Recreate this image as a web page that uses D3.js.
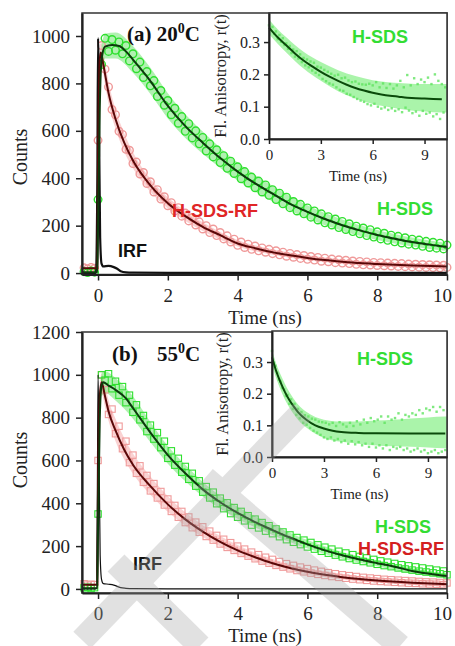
<!DOCTYPE html>
<html><head><meta charset="utf-8">
<script src="https://cdn.jsdelivr.net/npm/d3@7"></script>
<style>body{margin:0;background:#fff}svg{display:block}</style>
</head><body><svg id="c" width="455" height="646"></svg>
<script>
// ---------- DATA ----------
const mainTicksX = [0, 2, 4, 6, 8, 10];
const topTicksY = [0, 200, 400, 600, 800, 1000];
const botTicksY = [0, 200, 400, 600, 800, 1000, 1200];
const insetTicksX = [0, 3, 6, 9];
const insetTicksY = [0.0, 0.1, 0.2, 0.3];

// sampling channels (ns) for the decay data
const tData = [-0.4,-0.3,-0.2,-0.1,0,
0.1,0.2,0.3,0.4,0.5,0.6,0.7,0.8,0.9,1.0,
1.1,1.2,1.3,1.4,1.5,1.6,1.7,1.8,1.9,2.0,
2.1,2.2,2.3,2.4,2.5,2.6,2.7,2.8,2.9,3.0,
3.1,3.2,3.3,3.4,3.5,3.6,3.7,3.8,3.9,4.0,
4.1,4.2,4.3,4.4,4.5,4.6,4.7,4.8,4.9,5.0,
5.1,5.2,5.3,5.4,5.5,5.6,5.7,5.8,5.9,6.0,
6.1,6.2,6.3,6.4,6.5,6.6,6.7,6.8,6.9,7.0,
7.1,7.2,7.3,7.4,7.5,7.6,7.7,7.8,7.9,8.0,
8.1,8.2,8.3,8.4,8.5,8.6,8.7,8.8,8.9,9.0,
9.1,9.2,9.3,9.4,9.5,9.6,9.7,9.8,9.9,10.0];

// (a) 20 C observed counts
const topGreenObs = [6,2,9,4,310,
880,990,935,985,940,975,925,960,895,925,
862,890,825,850,790,812,745,770,708,728,
668,695,632,660,598,630,570,600,545,572,
515,545,490,520,466,495,442,472,420,448,
398,428,380,405,360,388,342,372,328,352,
310,337,292,320,276,302,262,290,250,275,
236,262,224,250,212,238,203,228,192,218,
184,208,175,198,166,190,158,183,152,174,
144,168,138,160,132,155,127,149,122,143,
118,139,113,134,108,130,105,126,102,118];
const topRedObs = [22,18,24,20,560,
960,860,785,690,668,598,585,522,518,462,
468,418,424,378,385,342,352,312,322,284,
297,262,276,240,253,220,234,203,216,186,
200,171,186,158,171,144,157,131,143,117,
131,108,122,100,114,94,106,88,100,82,
94,77,88,71,83,67,78,62,74,58,
70,55,66,50,63,48,59,44,56,42,
54,40,51,37,49,35,47,34,45,32,
44,31,42,30,41,28,40,27,38,26,
37,25,36,24,35,23,34,22,33,24];
// spread of the dense data cloud (counts)
const topGreenBandT  = [0.1,0.2,0.5,1,1.5,2,2.5,3,4,5,6,7,8,9,10];
const topGreenBandLo = [850,905,905,845,755,652,570,503,390,302,230,178,140,112,93];
const topGreenBandHi = [960,1010,1015,958,866,758,670,597,466,368,286,226,182,150,127];
const topRedBandT  = [0.05,0.1,0.2,0.3,0.5,0.75,1,1.5,2,2.5,3,4,5,6,7,8,10];
const topRedBandLo = [850,870,795,715,610,512,442,343,272,220,178,112,77,55,40,31,20];
const topRedBandHi = [965,970,890,808,692,590,510,398,320,262,214,140,100,75,57,46,36];

// (a) fits
const topGreenFitT = [-0.46,-0.02,0.0,0.05,0.1,0.2,0.4,0.6,0.8,1.0,1.5,2.0,2.5,3.0,3.5,4.0,4.5,5.0,5.5,6.0,6.5,7.0,7.5,8.0,8.5,9.0,9.5,10.0];
const topGreenFitV = [3,3,200,700,900,955,962,958,935,900,810,705,620,550,485,428,378,335,292,258,228,202,180,161,145,131,120,110];
const topRedFitT = [-0.46,-0.02,0.0,0.05,0.08,0.15,0.3,0.5,0.75,1.0,1.5,2.0,2.5,3.0,3.5,4.0,4.5,5.0,5.5,6.0,6.5,7.0,7.5,8.0,9.0,10.0];
const topRedFitV = [20,20,500,900,930,880,760,650,550,475,370,295,240,195,160,125,105,88,75,64,55,48,42,38,32,28];
const topIrfT = [-0.46,-0.06,-0.02,0.0,0.03,0.06,0.1,0.15,0.3,0.45,0.55,0.65,0.8,1.0,2.0,4.0,6.0,8.0,10.0];
const topIrfV = [0,0,400,990,600,150,40,28,30,25,18,8,3,2,1,1,1,1,1];

// (b) 55 C observed counts
const botGreenObs = [5,8,2,6,350,
1000,975,1005,935,970,905,945,870,905,825,
860,790,810,735,765,700,730,660,690,610,
645,578,610,545,572,512,540,480,505,452,
478,425,452,398,424,375,402,352,380,335,
362,318,342,298,326,285,310,270,295,258,
280,244,266,230,252,218,240,207,228,196,
217,186,206,176,195,167,186,158,176,150,
168,142,160,135,152,128,145,122,138,115,
131,109,125,104,119,98,113,93,108,88,
103,83,98,79,93,75,88,71,84,66];
const botRedObs = [24,18,22,20,600,
1000,930,815,840,725,760,655,690,590,625,
540,575,498,530,458,492,425,455,392,420,
362,390,335,362,310,336,286,312,265,290,
245,270,228,250,210,232,194,216,180,200,
166,186,153,172,141,160,130,148,120,138,
110,128,102,118,94,110,86,102,80,95,
74,88,68,82,63,76,58,71,54,66,
50,62,46,58,43,54,40,51,37,48,
35,45,33,43,31,41,29,39,27,37,
26,35,24,33,23,32,22,30,20,28];
const botGreenBandT  = [0.1,0.2,0.5,1,1.5,2,2.5,3,4,5,6,7,8,9,10];
const botGreenBandLo = [900,915,880,795,685,585,503,432,328,252,189,141,106,72,50];
const botGreenBandHi = [1010,1015,985,900,780,668,580,500,384,300,228,173,134,97,72];
const botRedBandT  = [0.05,0.1,0.2,0.3,0.5,0.75,1,1.5,2,2.5,3,4,5,6,7,8,10];
const botRedBandLo = [850,915,850,785,690,605,538,440,360,295,242,160,103,67,44,30,15];
const botRedBandHi = [965,1005,955,882,795,705,632,525,433,358,298,205,140,97,69,51,32];

// (b) fits
const botGreenFitT = [-0.46,-0.02,0.0,0.05,0.1,0.15,0.3,0.5,0.8,1.0,1.5,2.0,2.5,3.0,3.5,4.0,4.5,5.0,5.5,6.0,6.5,7.0,7.5,8.0,8.5,9.0,9.5,10.0];
const botGreenFitV = [3,3,300,800,950,965,950,930,890,845,730,625,540,465,405,355,312,275,240,208,180,157,137,120,104,84,71,60];
const botRedFitT = [-0.46,-0.02,0.0,0.05,0.1,0.2,0.3,0.5,0.75,1.0,1.5,2.0,2.5,3.0,3.5,4.0,4.5,5.0,5.5,6.0,6.5,7.0,7.5,8.0,9.0,10.0];
const botRedFitV = [20,20,500,900,965,900,830,740,650,580,480,395,325,268,220,180,148,120,98,80,66,55,46,39,29,22];
const botIrfT = [-0.46,-0.06,-0.02,0.0,0.03,0.06,0.1,0.15,0.3,0.45,0.55,0.65,0.8,1.0,2.0,4.0,6.0,8.0,10.0];
const botIrfV = [0,0,450,1000,620,160,45,25,22,18,12,6,3,1,0,0,0,0,0];

// anisotropy insets
const tInset = [0,0.1,0.2,0.3,0.4,0.5,0.6,0.7,0.8,0.9,
1.0,1.1,1.2,1.3,1.4,1.5,1.6,1.7,1.8,1.9,
2.0,2.1,2.2,2.3,2.4,2.5,2.6,2.7,2.8,2.9,
3.0,3.1,3.2,3.3,3.4,3.5,3.6,3.7,3.8,3.9,
4.0,4.1,4.2,4.3,4.4,4.5,4.6,4.7,4.8,4.9,
5.0,5.1,5.2,5.3,5.4,5.5,5.6,5.7,5.8,5.9,
6.0,6.1,6.2,6.3,6.4,6.5,6.6,6.7,6.8,6.9,
7.0,7.1,7.2,7.3,7.4,7.5,7.6,7.7,7.8,7.9,
8.0,8.1,8.2,8.3,8.4,8.5,8.6,8.7,8.8,8.9,
9.0,9.1,9.2,9.3,9.4,9.5,9.6,9.7,9.8,9.9,
10.0,10.1,10.2];
const topAnisoObs = [.352,.338,.347,.326,.333,.309,.322,.301,.312,.291,
.296,.279,.288,.266,.277,.255,.272,.249,.262,.238,
.251,.228,.246,.222,.240,.212,.236,.205,.224,.198,
.221,.186,.214,.179,.208,.172,.202,.168,.196,.160,
.199,.152,.188,.149,.190,.140,.181,.137,.176,.130,
.178,.124,.171,.119,.169,.115,.168,.108,.171,.104,
.166,.109,.176,.100,.160,.094,.172,.098,.158,.090,
.170,.095,.156,.087,.166,.092,.180,.083,.160,.097,
.198,.088,.166,.080,.188,.085,.170,.072,.184,.087,
.176,.078,.190,.082,.170,.070,.200,.077,.180,.062,
.170,.082,.160];
const topAnisoBandT = [0,0.5,1,2,3,4,5,6,7,8,9,10,10.3];
const topAnisoBandLo = [0.325,0.295,0.268,0.218,0.18,0.148,0.125,0.108,0.098,0.09,0.085,0.082,0.082];
const topAnisoBandHi = [0.37,0.34,0.315,0.27,0.238,0.213,0.195,0.182,0.175,0.172,0.17,0.17,0.17];
const topAnisoFitT = [0,0.5,1,1.5,2,2.5,3,3.5,4,4.5,5,5.5,6,6.5,7,7.5,8,8.5,9,9.5,10];
const topAnisoFitV = [0.345,0.315,0.29,0.265,0.243,0.225,0.208,0.193,0.18,0.168,0.158,0.15,0.143,0.138,0.134,0.131,0.128,0.126,0.125,0.124,0.123];

const botAnisoObs = [.335,.298,.288,.266,.245,.238,.218,.213,.193,.196,
.168,.182,.152,.168,.133,.152,.122,.142,.108,.132,
.102,.128,.092,.121,.083,.118,.077,.112,.070,.110,
.062,.108,.057,.103,.062,.108,.052,.098,.057,.110,
.047,.103,.052,.096,.042,.108,.050,.098,.040,.113,
.047,.103,.037,.118,.042,.108,.032,.123,.042,.113,
.030,.118,.037,.128,.027,.108,.037,.128,.022,.118,
.032,.123,.027,.138,.032,.118,.022,.133,.027,.128,
.017,.138,.022,.133,.027,.148,.017,.138,.022,.153,
.012,.148,.017,.158,.022,.143,.012,.158,.017,.148,
.022];
const botAnisoBandT = [0,0.25,0.5,1,1.5,2,3,4,5,6,7,8,9,10,10.1];
const botAnisoBandLo = [0.293,0.248,0.212,0.156,0.118,0.092,0.06,0.048,0.042,0.036,0.034,0.032,0.03,0.028,0.028];
const botAnisoBandHi = [0.338,0.294,0.26,0.205,0.166,0.142,0.118,0.112,0.112,0.115,0.118,0.122,0.125,0.128,0.128];
const botAnisoFitT = [0,0.25,0.5,0.75,1.0,1.25,1.5,2.0,2.5,3.0,3.5,4.0,5.0,6.0,8.0,10.0];
const botAnisoFitV = [0.315,0.27,0.235,0.205,0.18,0.16,0.142,0.117,0.1,0.09,0.083,0.079,0.076,0.075,0.074,0.074];

// ---------- DRAW ----------
const svg = d3.select("#c");
const SERIF = "'Liberation Serif','Times New Roman',serif";
const SANS = "'Liberation Sans',Arial,sans-serif";
const GREEN_MK = "#2fe02f", RED_MK = "#f09a9a";
const GREEN_FIT = "#0c3a0c", RED_FIT = "#5a0808";

function styleAxis(g, w) {
  g.select(".domain").attr("stroke", "#222").attr("stroke-width", w);
  g.selectAll(".tick line").attr("stroke", "#222").attr("stroke-width", 1.5);
  g.selectAll(".tick text").attr("fill", "#222").style("font-family", SERIF);
}

function mainPanel(p) {
  const x = d3.scaleLinear().domain([-0.46, 10]).range([82, 447]);
  const y = d3.scaleLinear().domain(p.yDomain).range([p.yBottom, p.yTop]);
  const g = svg.append("g");
  const area = d3.area().x(d => x(d[0])).y0(d => y(d[1])).y1(d => y(d[2])).curve(d3.curveMonotoneX);
  g.append("path").datum(d3.zip(p.redBand[0], p.redBand[1], p.redBand[2])).attr("d", area)
    .attr("fill", "#f6b4b4").attr("opacity", 0.6);
  g.append("path").datum(d3.zip(p.greenBand[0], p.greenBand[1], p.greenBand[2])).attr("d", area)
    .attr("fill", "#6fe66f").attr("opacity", 0.55);
  const pts = d3.zip(tData, p.redObs);
  const ptsG = d3.zip(tData, p.greenObs);
  if (p.marker === "circle") {
    g.append("g").selectAll("circle").data(pts).join("circle")
      .attr("cx", d => x(d[0])).attr("cy", d => y(d[1])).attr("r", 3.8)
      .attr("fill", "none").attr("stroke", RED_MK).attr("stroke-width", 1.4);
    g.append("g").selectAll("circle").data(ptsG).join("circle")
      .attr("cx", d => x(d[0])).attr("cy", d => y(d[1])).attr("r", 3.8)
      .attr("fill", "none").attr("stroke", GREEN_MK).attr("stroke-width", 1.4);
  } else {
    g.append("g").selectAll("rect").data(pts).join("rect")
      .attr("x", d => x(d[0]) - 3.2).attr("y", d => y(d[1]) - 3.2).attr("width", 6.4).attr("height", 6.4)
      .attr("fill", "none").attr("stroke", RED_MK).attr("stroke-width", 1.1);
    g.append("g").selectAll("rect").data(ptsG).join("rect")
      .attr("x", d => x(d[0]) - 3.2).attr("y", d => y(d[1]) - 3.2).attr("width", 6.4).attr("height", 6.4)
      .attr("fill", "none").attr("stroke", GREEN_MK).attr("stroke-width", 1.1);
  }
  const line = d3.line().x(d => x(d[0])).y(d => y(d[1])).curve(d3.curveMonotoneX);
  g.append("path").datum(d3.zip(p.irfT, p.irfV)).attr("d", line)
    .attr("fill", "none").attr("stroke", "#111").attr("stroke-width", p.irfW);
  g.append("path").datum(d3.zip(p.redFitT, p.redFitV)).attr("d", line)
    .attr("fill", "none").attr("stroke", RED_FIT).attr("stroke-width", 2);
  g.append("path").datum(d3.zip(p.greenFitT, p.greenFitV)).attr("d", line)
    .attr("fill", "none").attr("stroke", GREEN_FIT).attr("stroke-width", 2);

  // frame
  g.append("rect").attr("x", x.range()[0]).attr("y", p.yTop)
    .attr("width", x.range()[1] - x.range()[0]).attr("height", p.yBottom - p.yTop)
    .attr("fill", "none").attr("stroke", "#333").attr("stroke-width", 1.5);
  const ax = g.append("g").attr("transform", `translate(0,${p.yBottom})`)
    .call(d3.axisBottom(x).tickValues(mainTicksX).tickSize(6).tickSizeOuter(0).tickPadding(8).tickFormat(d3.format("d")));
  styleAxis(ax, 2.2);
  ax.selectAll(".tick text").attr("font-size", 19).attr("dx", d => d === 10 ? -5 : 0);
  const ay = g.append("g").attr("transform", `translate(${x.range()[0]},0)`)
    .call(d3.axisLeft(y).tickValues(p.yTicks).tickSize(6).tickSizeOuter(0).tickPadding(6).tickFormat(d3.format("d")));
  styleAxis(ay, 2.2);
  ay.selectAll(".tick text").attr("font-size", 19);
  g.append("text").attr("x", 265).attr("y", p.xTitleY).attr("text-anchor", "middle")
    .style("font-family", SERIF).attr("font-size", 19).attr("fill", "#222").text("Time (ns)");
  g.append("text").attr("transform", `translate(${p.yTitleX},${p.yTitleCY}) rotate(-90)`).attr("text-anchor", "middle")
    .style("font-family", SERIF).attr("font-size", 20).attr("fill", "#222").text("Counts");
  return {x, y};
}

function inset(p) {
  const x = d3.scaleLinear().domain(p.xDomain).range([p.x0, p.x1]);
  const y = d3.scaleLinear().domain(p.yDomain).range([p.y1, p.y0]);
  const g = svg.append("g");
  g.append("rect").attr("x", p.x0).attr("y", p.y0).attr("width", p.x1 - p.x0).attr("height", p.y1 - p.y0)
    .attr("fill", "#fff");
  const area = d3.area().x(d => x(d[0])).y0(d => y(d[1])).y1(d => y(d[2])).curve(d3.curveMonotoneX);
  g.append("path").datum(d3.zip(p.bandT, p.bandLo, p.bandHi)).attr("d", area)
    .attr("fill", "#86ef86").attr("opacity", 0.7);
  g.append("g").selectAll("rect").data(d3.zip(tInset, p.obs)).join("rect")
    .attr("x", d => x(d[0]) - 1.2).attr("y", d => y(d[1]) - 1.2).attr("width", 2.4).attr("height", 2.4)
    .attr("fill", "#5fe45f").attr("opacity", 0.8);
  const line = d3.line().x(d => x(d[0])).y(d => y(d[1])).curve(d3.curveMonotoneX);
  g.append("path").datum(d3.zip(p.fitT, p.fitV)).attr("d", line)
    .attr("fill", "none").attr("stroke", "#0a4a0a").attr("stroke-width", 2);
  g.append("rect").attr("x", p.x0).attr("y", p.y0).attr("width", p.x1 - p.x0).attr("height", p.y1 - p.y0)
    .attr("fill", "none").attr("stroke", "#333").attr("stroke-width", 1.5);
  const ax = g.append("g").attr("transform", `translate(0,${p.y1})`)
    .call(d3.axisBottom(x).tickValues(insetTicksX).tickSize(5).tickSizeOuter(0).tickPadding(5).tickFormat(d3.format("d")));
  styleAxis(ax, 2);
  ax.selectAll(".tick text").attr("font-size", 15);
  const ay = g.append("g").attr("transform", `translate(${p.x0},0)`)
    .call(d3.axisLeft(y).tickValues(insetTicksY).tickSize(5).tickSizeOuter(0).tickPadding(4).tickFormat(d3.format(".1f")));
  styleAxis(ay, 2);
  ay.selectAll(".tick text").attr("font-size", 16);
  g.append("text").attr("x", (p.x0 + p.x1) / 2).attr("y", p.xTitleY).attr("text-anchor", "middle")
    .style("font-family", SERIF).attr("font-size", 15).attr("fill", "#222").text("Time (ns)");
  g.append("text").attr("transform", `translate(${p.yTitleX},${(p.y0 + p.y1) / 2}) rotate(-90)`).attr("text-anchor", "middle")
    .style("font-family", SERIF).attr("font-size", 16.5).attr("fill", "#222").text("Fl. Anisotropy, r(t)");
}

function label(txt, x, y, color, size, family, weight) {
  return svg.append("text").attr("x", x).attr("y", y).attr("fill", color)
    .style("font-family", family).attr("font-size", size).attr("font-weight", weight || "bold").text(txt);
}

// ---- panel (a) ----
mainPanel({yDomain: [-6, 1097], yTop: 13, yBottom: 274.5, yTicks: topTicksY,
  greenObs: topGreenObs, redObs: topRedObs, marker: "circle",
  greenBand: [topGreenBandT, topGreenBandLo, topGreenBandHi], redBand: [topRedBandT, topRedBandLo, topRedBandHi],
  greenFitT: topGreenFitT, greenFitV: topGreenFitV, redFitT: topRedFitT, redFitV: topRedFitV,
  irfT: topIrfT, irfV: topIrfV, irfW: 2.2, xTitleY: 324, yTitleX: 27, yTitleCY: 157});
inset({xDomain: [0, 10.3], yDomain: [0, 0.39], x0: 269, x1: 447, y0: 13, y1: 139,
  obs: topAnisoObs, bandT: topAnisoBandT, bandLo: topAnisoBandLo, bandHi: topAnisoBandHi,
  fitT: topAnisoFitT, fitV: topAnisoFitV, xTitleY: 181, yTitleX: 226});

// ---- panel (b) ----
mainPanel({yDomain: [-19, 1200], yTop: 332, yBottom: 593, yTicks: botTicksY,
  greenObs: botGreenObs, redObs: botRedObs, marker: "square",
  greenBand: [botGreenBandT, botGreenBandLo, botGreenBandHi], redBand: [botRedBandT, botRedBandLo, botRedBandHi],
  greenFitT: botGreenFitT, greenFitV: botGreenFitV, redFitT: botRedFitT, redFitV: botRedFitV,
  irfT: botIrfT, irfV: botIrfV, irfW: 1.2, xTitleY: 642, yTitleX: 27, yTitleCY: 460});
inset({xDomain: [0, 10.1], yDomain: [0, 0.398], x0: 272, x1: 447, y0: 331, y1: 457,
  obs: botAnisoObs, bandT: botAnisoBandT, bandLo: botAnisoBandLo, bandHi: botAnisoBandHi,
  fitT: botAnisoFitT, fitV: botAnisoFitV, xTitleY: 499, yTitleX: 228});

// ---- text labels ----
const ta = label("(a) 20", 127, 41, "#111", 21, SERIF);
ta.append("tspan").attr("dy", -8).attr("font-size", 14).text("0");
ta.append("tspan").attr("dy", 8).text("C");
label("(b)", 112, 361, "#111", 21, SERIF);
const tb = label("55", 157, 361, "#111", 21, SERIF);
tb.append("tspan").attr("dy", -8).attr("font-size", 14).text("0");
tb.append("tspan").attr("dy", 8).text("C");

label("H-SDS", 352, 43, "#33dd33", 18, SANS);
label("H-SDS", 377, 215, "#33dd33", 18, SANS);
label("H-SDS-RF", 172, 217, "#e02626", 18, SANS);
label("IRF", 118, 257, "#111", 18, SANS);

label("H-SDS", 357, 365, "#33dd33", 18, SANS);
label("H-SDS", 375, 533, "#33dd33", 18, SANS);
label("H-SDS-RF", 358, 555, "#d42020", 18, SANS);
label("IRF", 133, 570, "#111", 18, SANS);

// ---- faint diagonal watermark stripes seen over panel (b) ----
const wm = svg.append("g").attr("fill", "#a4a4a4").attr("opacity", 0.32);
[[[82, 640], [302, 412]], [[116, 563], [200, 646]], [[205, 478], [400, 646]]].forEach(s => {
  const [[xa, ya], [xb, yb]] = s;
  const len = Math.hypot(xb - xa, yb - ya), w = 12;
  const nx = -(yb - ya) / len * w, ny = (xb - xa) / len * w;
  wm.append("polygon").attr("points",
    [[xa + nx, ya + ny], [xb + nx, yb + ny], [xb - nx, yb - ny], [xa - nx, ya - ny]].map(p => p.join(",")).join(" "));
});
</script>
</body></html>
